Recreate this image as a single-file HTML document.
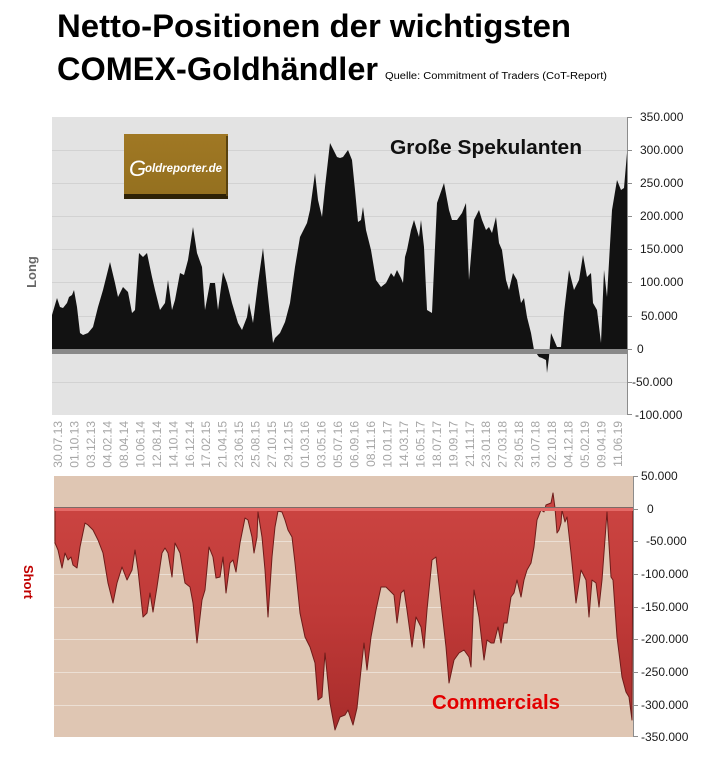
<!DOCTYPE html>
<html>
<head>
<meta charset="utf-8">
<style>
  html,body{margin:0;padding:0;background:#fff;}
  svg{display:block;}
  text{font-family:"Liberation Sans",sans-serif;}
</style>
</head>
<body>
<svg width="714" height="760" viewBox="0 0 714 760" xmlns="http://www.w3.org/2000/svg">
  <defs>
    <linearGradient id="redg" x1="0" y1="0" x2="0" y2="1">
      <stop offset="0" stop-color="#cc4542"/>
      <stop offset="0.5" stop-color="#c03a38"/>
      <stop offset="1" stop-color="#a82c2b"/>
    </linearGradient>
    <linearGradient id="logog" x1="0" y1="0" x2="0" y2="1">
      <stop offset="0" stop-color="#a07824"/>
      <stop offset="1" stop-color="#94701f"/>
    </linearGradient>
  </defs>
  <rect width="714" height="760" fill="#ffffff"/>

  <!-- Title -->
  <text x="57" y="37" font-size="32" font-weight="bold" fill="#000" textLength="514" lengthAdjust="spacingAndGlyphs">Netto-Positionen der wichtigsten</text>
  <text x="57" y="80" font-size="32" font-weight="bold" fill="#000" textLength="321" lengthAdjust="spacingAndGlyphs">COMEX-Goldhändler</text>
  <text x="385" y="79" font-size="10" fill="#000" textLength="222" lengthAdjust="spacingAndGlyphs">Quelle: Commitment of Traders (CoT-Report)</text>

  <!-- ===== TOP CHART ===== -->
  <rect x="52" y="117" width="575" height="298" fill="#e3e3e3"/>
  <g stroke="#d2d2d2" stroke-width="1">
    <line x1="52" y1="150.5" x2="627" y2="150.5"/>
    <line x1="52" y1="183.5" x2="627" y2="183.5"/>
    <line x1="52" y1="216.5" x2="627" y2="216.5"/>
    <line x1="52" y1="249.5" x2="627" y2="249.5"/>
    <line x1="52" y1="282.5" x2="627" y2="282.5"/>
    <line x1="52" y1="316.5" x2="627" y2="316.5"/>
    <line x1="52" y1="382.5" x2="627" y2="382.5"/>
  </g>
  <path fill="#121212" d="M52,351 L52,315 57,298 60,307 63,308 67,303 69,297 72,295 74,290 77,307 80,333 83,335 88,333 93,327 98,307 103,290 110,262 115,283 118,297 123,287 128,292 132,313 135,310 139,253 143,257 147,253 152,277 155,290 160,310 165,303 168,280 172,310 175,300 180,273 184,275 188,260 193,227 197,253 202,267 205,310 210,283 215,283 218,310 223,272 227,283 232,303 238,323 242,330 247,317 249,303 253,323 258,283 263,248 268,297 273,343 275,338 280,333 285,322 290,303 295,267 300,237 307,223 310,210 315,173 318,200 322,217 325,187 330,143 337,157 340,158 343,157 348,150 352,160 355,190 358,222 361,220 363,207 366,230 371,250 376,280 381,287 386,283 391,273 394,277 397,270 401,278 403,283 405,257 407,250 411,230 414,220 419,237 421,220 424,247 427,310 432,313 437,203 444,183 449,210 452,220 457,220 462,213 466,203 469,280 474,220 479,210 482,220 486,230 489,227 492,233 496,217 499,243 502,250 506,280 509,290 513,273 517,280 521,303 524,298 527,317 531,333 534,350 539,357 542,358 546,360 547,373 549,357 551,333 554,340 557,347 561,347 564,313 569,270 574,290 579,280 583,255 587,277 591,273 593,303 597,310 601,343 604,270 607,297 612,210 617,180 621,190 624,188 627,153 L627,351 Z"/>
  <rect x="52" y="349" width="575" height="5" fill="#898989"/>
  <!-- right axis -->
  <line x1="627.5" y1="117" x2="627.5" y2="415" stroke="#8c8c8c" stroke-width="1"/>
  <g stroke="#8c8c8c" stroke-width="1">
    <line x1="627" y1="117.5" x2="632" y2="117.5"/>
    <line x1="627" y1="150.5" x2="632" y2="150.5"/>
    <line x1="627" y1="183.5" x2="632" y2="183.5"/>
    <line x1="627" y1="216.5" x2="632" y2="216.5"/>
    <line x1="627" y1="249.5" x2="632" y2="249.5"/>
    <line x1="627" y1="282.5" x2="632" y2="282.5"/>
    <line x1="627" y1="316.5" x2="632" y2="316.5"/>
    <line x1="627" y1="349.5" x2="632" y2="349.5"/>
    <line x1="627" y1="382.5" x2="632" y2="382.5"/>
    <line x1="627" y1="414.5" x2="632" y2="414.5"/>
  </g>
  <g font-size="12" fill="#1a1a1a">
    <text x="640" y="121">350.000</text>
    <text x="640" y="154">300.000</text>
    <text x="640" y="187">250.000</text>
    <text x="640" y="220">200.000</text>
    <text x="640" y="253">150.000</text>
    <text x="640" y="286">100.000</text>
    <text x="641" y="320">50.000</text>
    <text x="637" y="353">0</text>
    <text x="632" y="386">-50.000</text>
    <text x="635" y="419">-100.000</text>
  </g>

  <!-- Logo -->
  <rect x="124" y="134" width="104" height="62" fill="url(#logog)"/>
  <rect x="124" y="194" width="104" height="5" fill="#2e2206"/>
  <rect x="226" y="136" width="2" height="60" fill="#5a430f"/>
  <text x="129" y="176" font-size="22" font-style="italic" fill="#ffffff" font-family="Liberation Serif, serif">G</text>
  <text x="145" y="172" font-size="12" font-weight="bold" font-style="italic" fill="#ffffff" textLength="77" lengthAdjust="spacingAndGlyphs">oldreporter.de</text>

  <text x="390" y="154" font-size="20" font-weight="bold" fill="#111" textLength="192" lengthAdjust="spacingAndGlyphs">Große Spekulanten</text>

  <text x="36" y="272" font-size="13" font-weight="bold" fill="#666" text-anchor="middle" transform="rotate(-90 36 272)">Long</text>

  <!-- X axis labels -->
  <g font-size="12" fill="#a6a6a6" text-anchor="end">
    <text transform="translate(62,421) rotate(-90)">30.07.13</text>
    <text transform="translate(78.5,421) rotate(-90)">01.10.13</text>
    <text transform="translate(94.9,421) rotate(-90)">03.12.13</text>
    <text transform="translate(111.4,421) rotate(-90)">04.02.14</text>
    <text transform="translate(127.9,421) rotate(-90)">08.04.14</text>
    <text transform="translate(144.4,421) rotate(-90)">10.06.14</text>
    <text transform="translate(160.8,421) rotate(-90)">12.08.14</text>
    <text transform="translate(177.3,421) rotate(-90)">14.10.14</text>
    <text transform="translate(193.8,421) rotate(-90)">16.12.14</text>
    <text transform="translate(210.2,421) rotate(-90)">17.02.15</text>
    <text transform="translate(226.7,421) rotate(-90)">21.04.15</text>
    <text transform="translate(243.2,421) rotate(-90)">23.06.15</text>
    <text transform="translate(259.6,421) rotate(-90)">25.08.15</text>
    <text transform="translate(276.1,421) rotate(-90)">27.10.15</text>
    <text transform="translate(292.6,421) rotate(-90)">29.12.15</text>
    <text transform="translate(309.1,421) rotate(-90)">01.03.16</text>
    <text transform="translate(325.5,421) rotate(-90)">03.05.16</text>
    <text transform="translate(342,421) rotate(-90)">05.07.16</text>
    <text transform="translate(358.5,421) rotate(-90)">06.09.16</text>
    <text transform="translate(374.9,421) rotate(-90)">08.11.16</text>
    <text transform="translate(391.4,421) rotate(-90)">10.01.17</text>
    <text transform="translate(407.9,421) rotate(-90)">14.03.17</text>
    <text transform="translate(424.3,421) rotate(-90)">16.05.17</text>
    <text transform="translate(440.8,421) rotate(-90)">18.07.17</text>
    <text transform="translate(457.3,421) rotate(-90)">19.09.17</text>
    <text transform="translate(473.8,421) rotate(-90)">21.11.17</text>
    <text transform="translate(490.2,421) rotate(-90)">23.01.18</text>
    <text transform="translate(506.7,421) rotate(-90)">27.03.18</text>
    <text transform="translate(523.2,421) rotate(-90)">29.05.18</text>
    <text transform="translate(539.6,421) rotate(-90)">31.07.18</text>
    <text transform="translate(556.1,421) rotate(-90)">02.10.18</text>
    <text transform="translate(572.6,421) rotate(-90)">04.12.18</text>
    <text transform="translate(589,421) rotate(-90)">05.02.19</text>
    <text transform="translate(605.5,421) rotate(-90)">09.04.19</text>
    <text transform="translate(622,421) rotate(-90)">11.06.19</text>
  </g>

  <!-- ===== BOTTOM CHART ===== -->
  <rect x="54" y="476" width="579" height="261" fill="#dfc6b3"/>
  <g stroke="#ecdfd4" stroke-width="1">
    <line x1="54" y1="541.5" x2="633" y2="541.5"/>
    <line x1="54" y1="574.5" x2="633" y2="574.5"/>
    <line x1="54" y1="607.5" x2="633" y2="607.5"/>
    <line x1="54" y1="639.5" x2="633" y2="639.5"/>
    <line x1="54" y1="672.5" x2="633" y2="672.5"/>
    <line x1="54" y1="705.5" x2="633" y2="705.5"/>
  </g>
  <path fill="url(#redg)" stroke="#6e1c1a" stroke-width="1" stroke-linejoin="round" d="M55,509 L55,543 58,550 62,568 65,553 68,560 71,557 73,565 77,568 80,547 85,523 88,525 93,530 98,540 103,553 108,583 113,603 117,583 122,567 127,580 132,570 135,550 138,570 143,617 147,613 150,593 153,612 157,587 162,553 165,548 168,553 172,577 175,543 180,553 185,583 190,587 193,603 197,643 202,600 205,590 209,547 213,557 216,578 220,577 223,557 226,593 230,563 233,560 236,572 240,543 245,518 248,520 252,537 254,553 257,537 258,512 262,537 265,570 268,617 272,557 275,527 278,511 282,512 285,520 288,530 292,537 295,563 300,613 305,637 310,647 315,663 318,700 322,697 325,653 330,703 335,730 340,717 345,715 348,710 353,725 357,708 361,670 364,643 367,670 371,637 376,610 381,587 386,587 391,592 394,595 397,623 401,593 404,590 407,610 412,647 416,617 421,627 424,648 427,610 432,560 436,557 441,603 446,647 449,683 454,660 459,653 464,650 469,657 471,667 474,590 479,617 484,660 487,640 491,643 494,643 498,627 501,643 504,623 507,623 511,597 514,593 517,580 521,597 524,580 527,570 531,563 534,547 537,520 541,510 544,512 546,505 551,503 553,493 555,508 557,533 559,530 561,523 562,510 565,522 567,517 571,553 576,603 581,570 586,580 589,617 592,580 596,583 599,607 602,580 607,512 611,577 613,580 617,637 622,677 626,692 629,697 632,720 633,509 Z"/>
  <line x1="54" y1="507.5" x2="633" y2="507.5" stroke="#7d6a66" stroke-width="1"/>
  <rect x="54" y="508" width="579" height="3" fill="#e46a67"/>
  <!-- right axis -->
  <line x1="633.5" y1="476" x2="633.5" y2="737" stroke="#8c8c8c" stroke-width="1"/>
  <g stroke="#8c8c8c" stroke-width="1">
    <line x1="633" y1="476.5" x2="638" y2="476.5"/>
    <line x1="633" y1="509.5" x2="638" y2="509.5"/>
    <line x1="633" y1="541.5" x2="638" y2="541.5"/>
    <line x1="633" y1="574.5" x2="638" y2="574.5"/>
    <line x1="633" y1="607.5" x2="638" y2="607.5"/>
    <line x1="633" y1="639.5" x2="638" y2="639.5"/>
    <line x1="633" y1="672.5" x2="638" y2="672.5"/>
    <line x1="633" y1="705.5" x2="638" y2="705.5"/>
    <line x1="633" y1="736.5" x2="638" y2="736.5"/>
  </g>
  <g font-size="12" fill="#1a1a1a">
    <text x="641" y="480">50.000</text>
    <text x="647" y="513">0</text>
    <text x="646" y="545">-50.000</text>
    <text x="641" y="578">-100.000</text>
    <text x="641" y="611">-150.000</text>
    <text x="641" y="643">-200.000</text>
    <text x="641" y="676">-250.000</text>
    <text x="641" y="709">-300.000</text>
    <text x="641" y="741">-350.000</text>
  </g>

  <text x="432" y="709" font-size="20" font-weight="bold" fill="#e30000" textLength="128" lengthAdjust="spacingAndGlyphs">Commercials</text>

  <text x="24" y="582" font-size="13" font-weight="bold" fill="#c00000" text-anchor="middle" transform="rotate(90 24 582)">Short</text>
</svg>
</body>
</html>
